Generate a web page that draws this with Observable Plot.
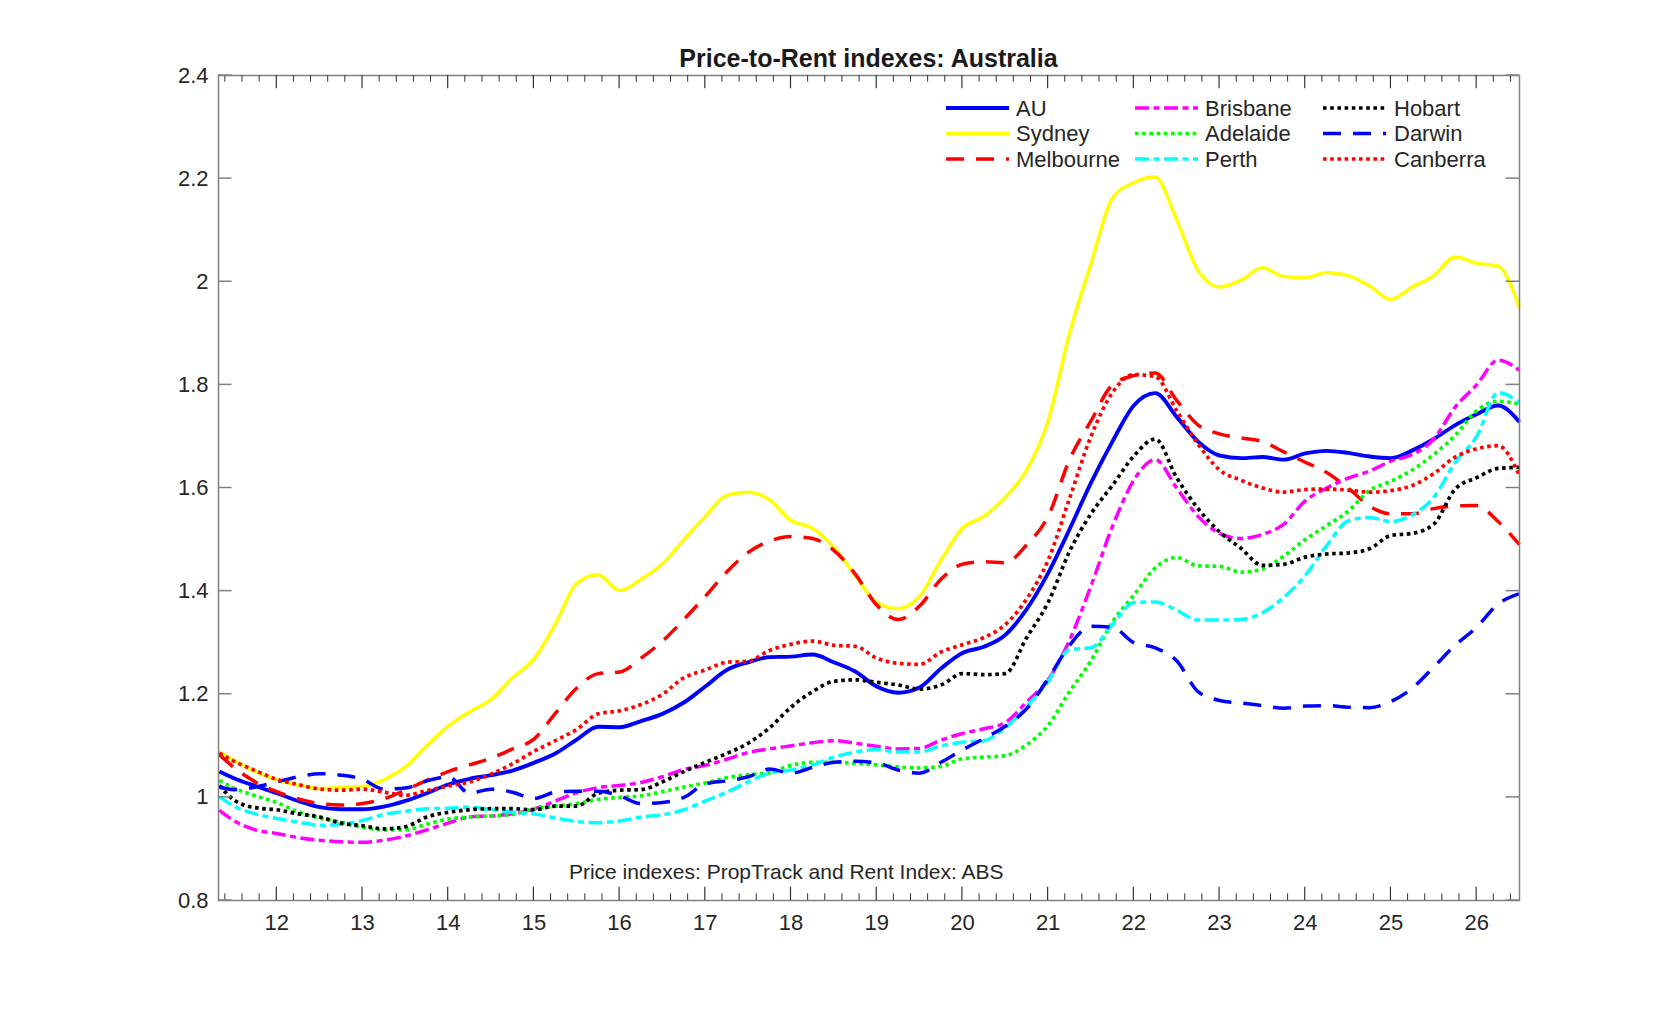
<!DOCTYPE html>
<html>
<head>
<meta charset="utf-8">
<script src="https://cdn.jsdelivr.net/npm/d3@7"></script>
<script src="https://cdn.jsdelivr.net/npm/@observablehq/plot@0.6"></script>
<style>
  html, body { margin: 0; padding: 0; background: #ffffff; }
  #chart { width: 1679px; height: 1011px; }
</style>
</head>
<body>
<div id="chart"></div>
<script>
// ---------- data (year index: 12 = 2012) ----------
const years = [11.33, 11.5, 11.75, 12.0, 12.25, 12.5, 12.75, 13.0, 13.25, 13.5, 13.75,
  14.0, 14.25, 14.5, 14.75, 15.0, 15.25, 15.5, 15.75, 16.0, 16.25, 16.5, 16.75,
  17.0, 17.25, 17.5, 17.75, 18.0, 18.25, 18.5, 18.75, 19.0, 19.25, 19.5, 19.75,
  20.0, 20.25, 20.5, 20.75, 21.0, 21.25, 21.5, 21.75, 22.0, 22.25, 22.5, 22.75,
  23.0, 23.25, 23.5, 23.75, 24.0, 24.25, 24.5, 24.75, 25.0, 25.25, 25.5, 25.75,
  26.0, 26.25, 26.5];

const AU = [1.050, 1.037, 1.022, 1.008, 0.993, 0.981, 0.977, 0.977, 0.982, 0.993, 1.008,
  1.025, 1.036, 1.043, 1.052, 1.067, 1.085, 1.112, 1.137, 1.136, 1.148, 1.162, 1.184,
  1.215, 1.247, 1.262, 1.272, 1.273, 1.277, 1.262, 1.244, 1.215, 1.203, 1.213, 1.250,
  1.280, 1.292, 1.315, 1.365, 1.435, 1.520, 1.610, 1.690, 1.760, 1.784, 1.738, 1.690,
  1.663, 1.658, 1.660, 1.655, 1.667, 1.672, 1.668, 1.661, 1.658, 1.673, 1.695, 1.722,
  1.743, 1.760, 1.728];

const Sydney = [1.088, 1.072, 1.050, 1.034, 1.024, 1.017, 1.019, 1.021, 1.034, 1.059, 1.100,
  1.138, 1.166, 1.190, 1.232, 1.268, 1.336, 1.415, 1.432, 1.401, 1.423, 1.453, 1.500,
  1.545, 1.586, 1.592, 1.577, 1.537, 1.522, 1.485, 1.430, 1.378, 1.366, 1.390, 1.460,
  1.522, 1.545, 1.582, 1.635, 1.730, 1.900, 2.035, 2.162, 2.192, 2.203, 2.120, 2.022,
  1.990, 2.003, 2.027, 2.010, 2.008, 2.018, 2.012, 1.992, 1.966, 1.990, 2.012, 2.048,
  2.036, 2.030, 1.949];

const Melbourne = [1.083, 1.058, 1.030, 1.011, 0.997, 0.988, 0.985, 0.988, 0.997, 1.014, 1.033,
  1.050, 1.063, 1.076, 1.094, 1.113, 1.163, 1.212, 1.240, 1.243, 1.270, 1.303, 1.345,
  1.390, 1.437, 1.475, 1.497, 1.506, 1.502, 1.479, 1.433, 1.373, 1.345, 1.371, 1.423,
  1.452, 1.457, 1.455, 1.490, 1.545, 1.655, 1.730, 1.800, 1.818, 1.823, 1.770, 1.722,
  1.705, 1.697, 1.690, 1.670, 1.650, 1.630, 1.600, 1.565, 1.550, 1.550, 1.560, 1.565,
  1.566, 1.535, 1.490];

const Brisbane = [0.975, 0.955, 0.937, 0.930, 0.922, 0.917, 0.914, 0.913, 0.917, 0.925, 0.937,
  0.950, 0.962, 0.964, 0.968, 0.977, 0.993, 1.009, 1.019, 1.023, 1.029, 1.040, 1.054,
  1.062, 1.074, 1.087, 1.094, 1.100, 1.106, 1.110, 1.105, 1.099, 1.094, 1.095, 1.111,
  1.124, 1.133, 1.145, 1.185, 1.228, 1.305, 1.410, 1.525, 1.615, 1.655, 1.600, 1.545,
  1.512, 1.502, 1.510, 1.530, 1.575, 1.600, 1.619, 1.633, 1.652, 1.665, 1.695, 1.757,
  1.800, 1.848, 1.828];

const Adelaide = [1.033, 1.018, 1.003, 0.990, 0.972, 0.960, 0.952, 0.942, 0.937, 0.937, 0.948,
  0.958, 0.962, 0.964, 0.967, 0.978, 0.983, 0.988, 0.996, 1.000, 1.003, 1.011, 1.020,
  1.028, 1.038, 1.044, 1.048, 1.062, 1.068, 1.068, 1.066, 1.063, 1.059, 1.057, 1.060,
  1.075, 1.078, 1.081, 1.102, 1.140, 1.205, 1.265, 1.340, 1.392, 1.445, 1.465, 1.449,
  1.448, 1.437, 1.443, 1.468, 1.500, 1.527, 1.555, 1.595, 1.613, 1.635, 1.665, 1.702,
  1.750, 1.768, 1.763];

const Perth = [1.001, 0.983, 0.968, 0.959, 0.952, 0.946, 0.948, 0.955, 0.967, 0.973, 0.978,
  0.979, 0.981, 0.976, 0.971, 0.968, 0.960, 0.953, 0.951, 0.954, 0.962, 0.966, 0.976,
  0.993, 1.010, 1.030, 1.047, 1.053, 1.063, 1.078, 1.088, 1.093, 1.088, 1.088, 1.100,
  1.107, 1.110, 1.135, 1.176, 1.225, 1.287, 1.290, 1.335, 1.378, 1.379, 1.363, 1.344,
  1.344, 1.345, 1.358, 1.388, 1.430, 1.488, 1.536, 1.543, 1.535, 1.548, 1.582, 1.650,
  1.700, 1.785, 1.766];

const Hobart = [1.023, 0.995, 0.980, 0.976, 0.968, 0.962, 0.950, 0.945, 0.939, 0.943, 0.962,
  0.971, 0.976, 0.978, 0.978, 0.976, 0.983, 0.983, 1.008, 1.014, 1.015, 1.030, 1.050,
  1.068, 1.085, 1.105, 1.135, 1.175, 1.205, 1.225, 1.228, 1.223, 1.218, 1.210, 1.218,
  1.240, 1.238, 1.240, 1.310, 1.378, 1.477, 1.550, 1.605, 1.662, 1.695, 1.620, 1.560,
  1.515, 1.483, 1.450, 1.452, 1.466, 1.472, 1.474, 1.482, 1.508, 1.512, 1.530, 1.598,
  1.620, 1.638, 1.640];

const Darwin = [1.020, 1.015, 1.020, 1.030, 1.040, 1.046, 1.043, 1.035, 1.016, 1.018, 1.032,
  1.040, 1.008, 1.016, 1.010, 0.998, 1.010, 1.012, 1.012, 1.003, 0.988, 0.990, 1.000,
  1.026, 1.032, 1.040, 1.055, 1.047, 1.058, 1.068, 1.070, 1.067, 1.053, 1.047, 1.068,
  1.092, 1.114, 1.138, 1.172, 1.230, 1.295, 1.332, 1.330, 1.300, 1.290, 1.265, 1.205,
  1.188, 1.183, 1.178, 1.173, 1.177, 1.178, 1.175, 1.174, 1.186, 1.212, 1.253, 1.295,
  1.330, 1.375, 1.395];

const Canberra = [1.086, 1.070, 1.052, 1.035, 1.025, 1.016, 1.014, 1.016, 1.010, 1.004, 1.013,
  1.022, 1.030, 1.045, 1.065, 1.089, 1.110, 1.132, 1.162, 1.168, 1.180, 1.200, 1.232,
  1.247, 1.262, 1.264, 1.285, 1.297, 1.303, 1.295, 1.293, 1.270, 1.260, 1.258, 1.282,
  1.296, 1.310, 1.335, 1.385, 1.460, 1.580, 1.700, 1.785, 1.820, 1.816, 1.750, 1.685,
  1.635, 1.615, 1.600, 1.592, 1.597, 1.598, 1.596, 1.592, 1.595, 1.605, 1.628, 1.660,
  1.676, 1.682, 1.624];

const seriesNames = ["AU", "Sydney", "Melbourne", "Brisbane", "Adelaide", "Perth", "Hobart", "Darwin", "Canberra"];
const seriesValues = [AU, Sydney, Melbourne, Brisbane, Adelaide, Perth, Hobart, Darwin, Canberra];
const seriesColors = ["#0000ff", "#ffff00", "#ff0000", "#ff00ff", "#00ff00", "#00ffff", "#000000", "#0000ff", "#ff0000"];
const seriesDash = [null, null, "18,12", "14,4.5,6,4.5", "3.6,3.6", "14,4.5,6,4.5", "3.6,3.6", "18,12", "3.6,3.6"];
const seriesWidth = [3.9, 3.5, 3.5, 3.5, 3.7, 3.5, 3.7, 3.5, 3.7];

const yTicks = [0.8, 1.0, 1.2, 1.4, 1.6, 1.8, 2.0, 2.2, 2.4];
const xTicks = [12, 13, 14, 15, 16, 17, 18, 19, 20, 21, 22, 23, 24, 25, 26];
const xDomain = [11.32, 26.5];
const yDomain = [0.8, 2.4];
const titleText = "Price-to-Rent indexes: Australia";
const captionText = "Price indexes: PropTrack and Rent Index: ABS";
const captionPos = [17.95, 0.84];

// ---------- build table ----------
const rows = [];
seriesNames.forEach((name, i) => {
  seriesValues[i].forEach((v, j) => rows.push({series: name, t: years[j], v}));
});

const lineMarks = seriesNames.map((name, i) =>
  Plot.line(rows.filter(r => r.series === name), {
    x: "t", y: "v",
    stroke: seriesColors[i],
    strokeWidth: seriesWidth[i],
    strokeDasharray: seriesDash[i] ?? undefined,
    strokeLinecap: "butt",
    strokeLinejoin: "round",
    curve: "monotone-x"
  })
);

const FONT = "'Liberation Sans', Arial, Helvetica, sans-serif";
const plot = Plot.plot({
  width: 1679,
  height: 1011,
  marginLeft: 218,
  marginRight: 160,
  marginTop: 75,
  marginBottom: 111,
  x: {domain: xDomain, label: null},
  y: {domain: yDomain, label: null},
  style: {fontFamily: FONT, fontSize: "22px", color: "#262626", background: "#ffffff", overflow: "visible"},
  marks: [
    ...lineMarks,
    Plot.frame({stroke: "#808080", strokeWidth: 1.5}),
    Plot.axisY({ticks: yTicks, tickSize: 0, tickPadding: 10, fontSize: 22,
      tickFormat: d => String(+d.toFixed(1)), label: null, fill: "#262626"}),
    Plot.axisX({ticks: xTicks, tickSize: 0, tickPadding: 14, fontSize: 22,
      tickFormat: d => String(d), label: null, fill: "#262626"})
  ]
});

document.getElementById("chart").appendChild(plot);

// ---------- decorations using the plot's own scales ----------
const xs = plot.scale("x"), ys = plot.scale("y");
const X = v => xs.apply(v), Y = v => ys.apply(v);
const svg = d3.select(plot);
const g = svg.append("g");

const x0 = X(xDomain[0]), x1 = X(xDomain[1]);
const yb = Y(yDomain[0]), yt = Y(yDomain[1]);

// minor x ticks every 0.2 year
const minor = [];
for (let k = Math.ceil(xDomain[0] * 5); k <= Math.floor(xDomain[1] * 5); k++) {
  if (k % 5 !== 0) minor.push(k / 5);
}
minor.forEach(t => {
  g.append("line").attr("x1", X(t)).attr("x2", X(t)).attr("y1", yb).attr("y2", yb - 6.7)
    .attr("stroke", "#333").attr("stroke-width", 1);
  g.append("line").attr("x1", X(t)).attr("x2", X(t)).attr("y1", yt).attr("y2", yt + 6.7)
    .attr("stroke", "#333").attr("stroke-width", 1);
});
xTicks.forEach(t => {
  g.append("line").attr("x1", X(t)).attr("x2", X(t)).attr("y1", yb).attr("y2", yb - 13.3)
    .attr("stroke", "#333").attr("stroke-width", 1.2);
  g.append("line").attr("x1", X(t)).attr("x2", X(t)).attr("y1", yt).attr("y2", yt + 13.3)
    .attr("stroke", "#333").attr("stroke-width", 1.2);
});
yTicks.forEach(v => {
  g.append("line").attr("x1", x0).attr("x2", x0 + 13.5).attr("y1", Y(v)).attr("y2", Y(v))
    .attr("stroke", "#808080").attr("stroke-width", 1.5);
  g.append("line").attr("x1", x1).attr("x2", x1 - 13.5).attr("y1", Y(v)).attr("y2", Y(v))
    .attr("stroke", "#808080").attr("stroke-width", 1.5);
});

// title
svg.append("text")
  .attr("x", (x0 + x1) / 2).attr("y", yt - 8.5)
  .attr("text-anchor", "middle")
  .attr("font-family", FONT).attr("font-size", 25).attr("font-weight", "bold")
  .attr("fill", "#1a1a1a")
  .text(titleText);

// caption
svg.append("text")
  .attr("x", X(captionPos[0])).attr("y", Y(captionPos[1]))
  .attr("text-anchor", "middle")
  .attr("font-family", FONT).attr("font-size", 21)
  .attr("fill", "#262626")
  .text(captionText);

// legend (3 columns x 3 rows, inside the plot area)
const legCols = [{lx: 946, tx: 1016}, {lx: 1135, tx: 1205}, {lx: 1323, tx: 1394}];
const legRows = [108, 133.5, 159];
const legLen = 63;
const leg = svg.append("g");
seriesNames.forEach((name, i) => {
  const c = legCols[Math.floor(i / 3)], ry = legRows[i % 3];
  const ln = leg.append("line")
    .attr("x1", c.lx).attr("x2", c.lx + legLen).attr("y1", ry).attr("y2", ry)
    .attr("stroke", seriesColors[i]).attr("stroke-width", seriesWidth[i]);
  if (seriesDash[i]) ln.attr("stroke-dasharray", seriesDash[i]);
  leg.append("text")
    .attr("x", c.tx).attr("y", ry).attr("dy", "0.36em")
    .attr("text-anchor", "start")
    .attr("font-family", FONT).attr("font-size", 22)
    .attr("fill", "#262626")
    .text(name);
});
</script>
</body>
</html>
